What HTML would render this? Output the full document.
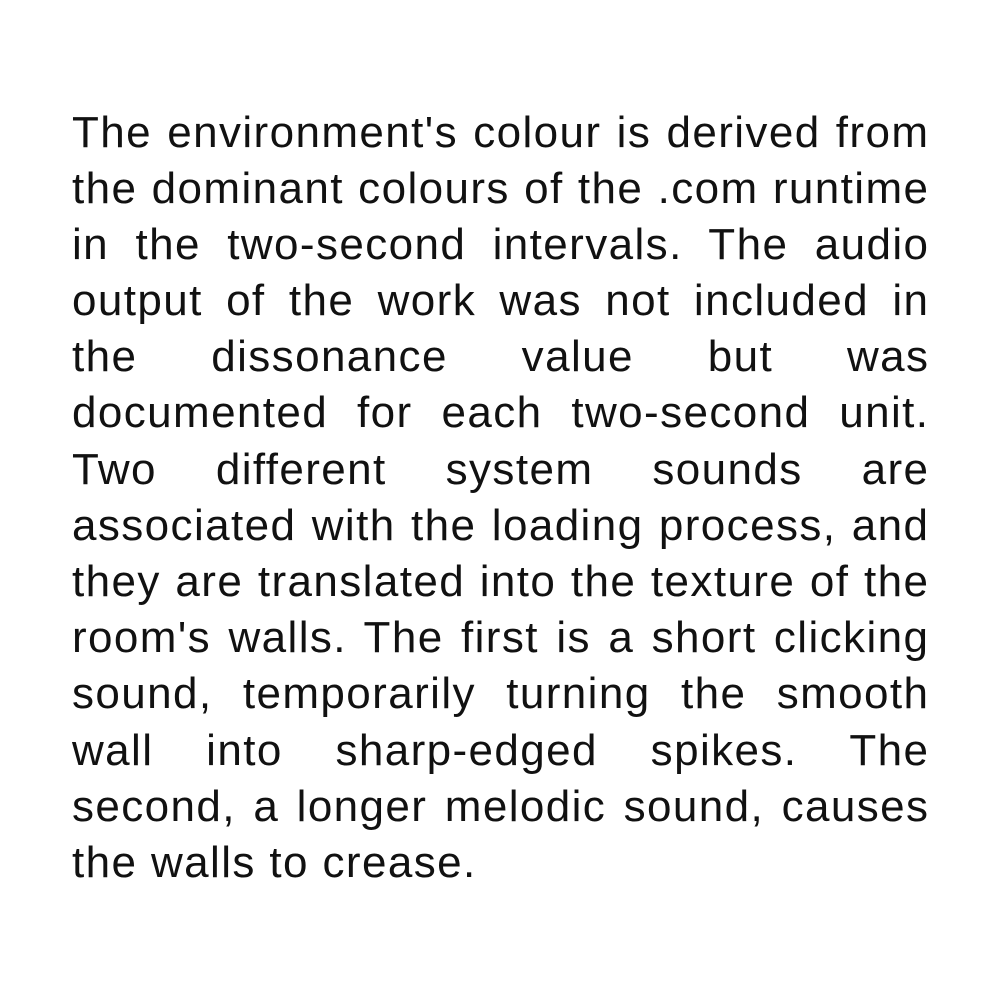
<!DOCTYPE html>
<html><head><meta charset="utf-8"><style>
html,body{margin:0;padding:0;background:#fff;width:1000px;height:1000px;overflow:hidden}
#text{position:absolute;left:72px;top:104.5px;width:856px;font-family:"Liberation Sans",sans-serif;font-size:44px;letter-spacing:1.4px;color:#111;line-height:56.2px}
.l{display:block;height:56.2px;white-space:nowrap;text-align:justify;text-align-last:justify;margin-right:-1.4px}
.last{text-align-last:left}
</style></head><body>
<div id="text">
<div class="l">The environment's colour is derived from</div>
<div class="l">the dominant colours of the .com runtime</div>
<div class="l">in the two-second intervals. The audio</div>
<div class="l">output of the work was not included in</div>
<div class="l">the dissonance value but was</div>
<div class="l">documented for each two-second unit.</div>
<div class="l">Two different system sounds are</div>
<div class="l">associated with the loading process, and</div>
<div class="l">they are translated into the texture of the</div>
<div class="l">room's walls. The first is a short clicking</div>
<div class="l">sound, temporarily turning the smooth</div>
<div class="l">wall into sharp-edged spikes. The</div>
<div class="l">second, a longer melodic sound, causes</div>
<div class="l last">the walls to crease.</div>
</div>
</body></html>
